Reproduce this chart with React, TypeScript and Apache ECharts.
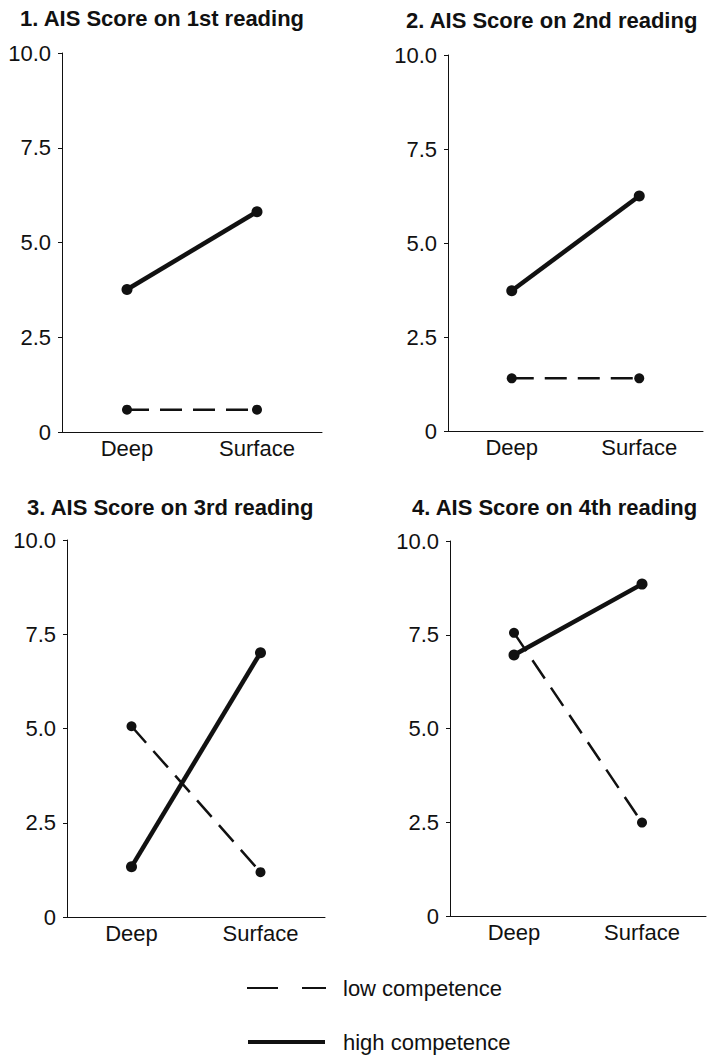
import React, { useEffect, useRef } from "react";
import * as echarts from "echarts";

const categories = ["Deep", "Surface"];
const panelTitles = [
  "1. AIS Score on 1st reading",
  "2. AIS Score on 2nd reading",
  "3. AIS Score on 3rd reading",
  "4. AIS Score on 4th reading",
];
const lowCompetence = [
  [0.59, 0.59],
  [1.4, 1.4],
  [5.06, 1.19],
  [7.55, 2.49],
];
const highCompetence = [
  [3.76, 5.81],
  [3.73, 6.25],
  [1.33, 7.01],
  [6.96, 8.85],
];
const yMin = 0;
const yMax = 10;
const yInterval = 2.5;
const legendLabels = ["low competence", "high competence"];

const FONT = '"Liberation Sans", Arial, Helvetica, sans-serif';
const INK = "#111";

const grids = [
  { left: 62, top: 53, width: 260, height: 379 },
  { left: 448, top: 55, width: 255, height: 376 },
  { left: 67, top: 540, width: 258, height: 377 },
  { left: 450, top: 541, width: 256, height: 375 },
];
const titlePos = [
  { x: 20, y: 18 },
  { x: 406, y: 20 },
  { x: 27, y: 507 },
  { x: 412, y: 507 },
];

export default function App() {
  const ref = useRef<HTMLDivElement>(null);
  useEffect(() => {
    if (!ref.current) return;
    const chart = echarts.init(ref.current, undefined, { renderer: "svg" });
    const xAxis = grids.map((_, i) => ({
      type: "category",
      gridIndex: i,
      data: categories,
      boundaryGap: true,
      axisLine: { lineStyle: { color: INK, width: 1 } },
      axisTick: { alignWithLabel: true, inside: true, length: 6, lineStyle: { color: INK } },
      axisLabel: { color: INK, fontSize: 22, fontFamily: FONT, margin: 5 },
      splitLine: { show: false },
    }));
    const yAxis = grids.map((_, i) => ({
      type: "value",
      gridIndex: i,
      min: yMin,
      max: yMax,
      interval: yInterval,
      axisLine: { show: true, lineStyle: { color: INK, width: 1 } },
      axisTick: { show: true, length: 4, lineStyle: { color: INK } },
      axisLabel: {
        color: INK,
        fontSize: 22,
        fontFamily: FONT,
        margin: 11,
        formatter: (v: number) => (v === 0 ? "0" : v.toFixed(1)),
      },
      splitLine: { show: false },
    }));
    const series: any[] = [];
    grids.forEach((_, i) => {
      series.push({
        type: "line",
        name: legendLabels[0],
        xAxisIndex: i,
        yAxisIndex: i,
        data: lowCompetence[i],
        symbol: "circle",
        symbolSize: 10,
        itemStyle: { color: INK },
        lineStyle: { color: INK, width: 2.5, type: [22, 11] },
        z: 2,
      });
      series.push({
        type: "line",
        name: legendLabels[1],
        xAxisIndex: i,
        yAxisIndex: i,
        data: highCompetence[i],
        symbol: "circle",
        symbolSize: 11,
        itemStyle: { color: INK },
        lineStyle: { color: INK, width: 4.5 },
        z: 3,
      });
    });
    const graphic: any[] = panelTitles.map((t, i) => ({
      type: "text",
      x: titlePos[i].x,
      y: titlePos[i].y,
      style: {
        text: t,
        font: `bold 22px ${FONT}`,
        fill: INK,
        verticalAlign: "middle",
      },
    }));
    graphic.push(
      {
        type: "line",
        shape: { x1: 247, y1: 988, x2: 326, y2: 988 },
        style: { stroke: INK, lineWidth: 2, lineDash: [31, 24] },
      },
      {
        type: "text",
        x: 343,
        y: 988,
        style: { text: legendLabels[0], font: `22px ${FONT}`, fill: INK, verticalAlign: "middle" },
      },
      {
        type: "line",
        shape: { x1: 248, y1: 1042, x2: 325, y2: 1042 },
        style: { stroke: INK, lineWidth: 4 },
      },
      {
        type: "text",
        x: 343,
        y: 1042,
        style: { text: legendLabels[1], font: `22px ${FONT}`, fill: INK, verticalAlign: "middle" },
      }
    );
    chart.setOption({
      animation: false,
      backgroundColor: "#fff",
      grid: grids,
      xAxis,
      yAxis,
      series,
      graphic,
    });
    return () => chart.dispose();
  }, []);
  return (
    <div
      ref={ref}
      style={{ position: "fixed", left: 0, top: 0, width: 711, height: 1056, background: "#fff" }}
    />
  );
}
